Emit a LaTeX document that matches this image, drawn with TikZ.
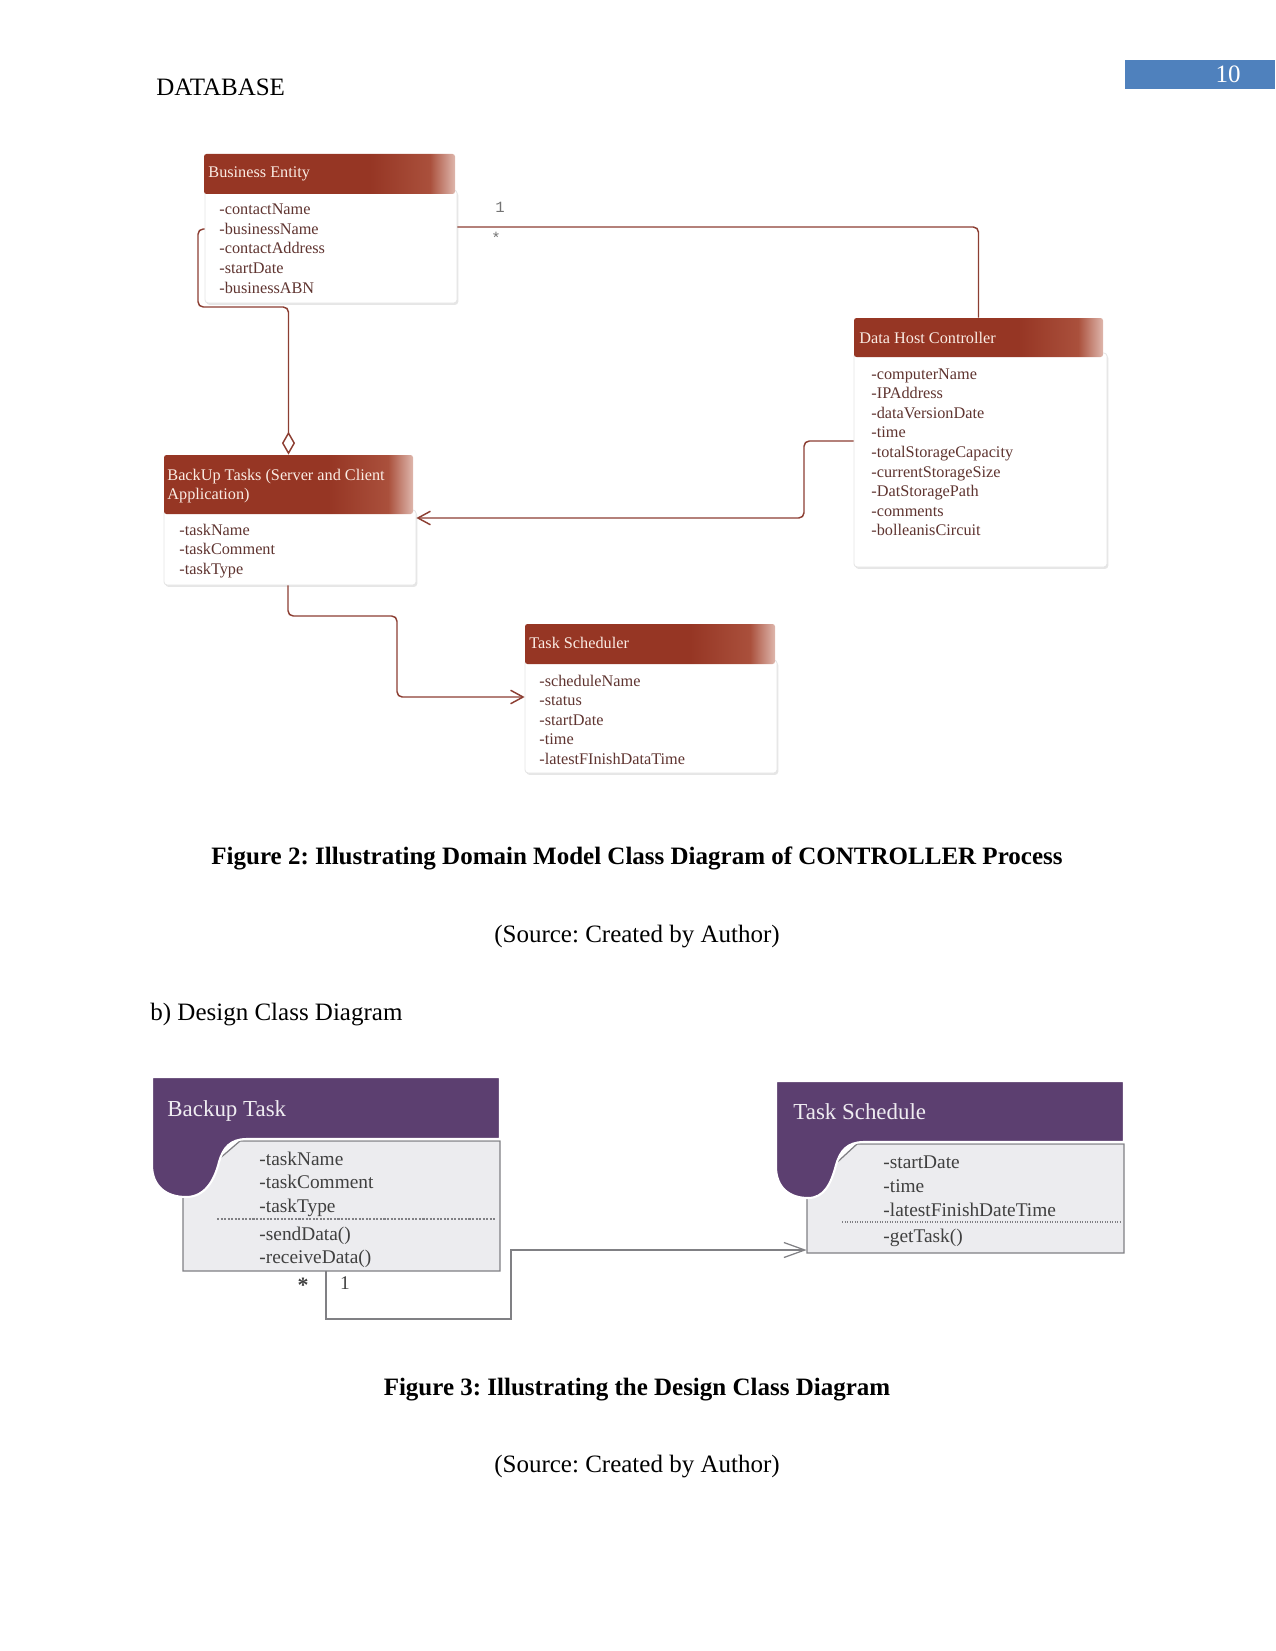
\documentclass[tikz,border=0pt]{standalone}
\usepackage{fontspec}
\setmainfont{Liberation Serif}
\newfontfamily\monofnt{Liberation Mono}
\usetikzlibrary{arrows.meta,shadows,fit,calc}
\frenchspacing
\definecolor{hdrA}{RGB}{150,54,36}
\definecolor{hdrB}{RGB}{170,80,60}
\definecolor{hdrC}{RGB}{222,182,172}
\definecolor{brline}{RGB}{140,62,50}
\definecolor{brtext}{RGB}{95,52,48}
\definecolor{hdrtext}{RGB}{250,236,228}
\definecolor{purp}{RGB}{92,63,112}
\definecolor{bodygray}{RGB}{236,236,239}
\definecolor{edgegray}{RGB}{128,128,132}
\definecolor{pgblue}{RGB}{79,129,189}
\pgfdeclarehorizontalshading{hdrshade}{100bp}{color(0bp)=(hdrA); color(25bp)=(hdrA); color(58bp)=(hdrA); color(70bp)=(hdrB); color(75bp)=(hdrC); color(100bp)=(hdrC)}
\tikzset{
  hdr/.style={inner sep=0pt, rounded corners=1.2pt, shading=hdrshade},
  clsbody/.style={inner sep=0pt, fill=white, draw=black!10, rounded corners=1.5pt,
     drop shadow={shadow xshift=0.6pt, shadow yshift=-0.9pt, opacity=0.2}},
  hdrlbl/.style={anchor=base west, inner sep=0pt, text=hdrtext, font=\fontsize{7.8}{9}\selectfont},
  attr/.style={anchor=base west, inner sep=0pt, text=brtext, font=\fontsize{7.8}{9}\selectfont},
  conn/.style={draw=brline, line width=0.7pt, rounded corners=2.5pt},
  openarr/.style={-{Straight Barb[length=6pt,width=6.5pt]}},
  mult/.style={anchor=base, inner sep=0pt, text=black!55, font=\monofnt\fontsize{7.5}{9}\selectfont},
  purpT/.style={anchor=base west, inner sep=0pt, text=white!90!purp, font=\fontsize{11}{13}\selectfont},
  dattr/.style={anchor=base west, inner sep=0pt, text=black!75, font=\fontsize{9.3}{11}\selectfont},
  gline/.style={draw=edgegray, line width=0.6pt},
  doc/.style={inner sep=0pt, font=\fontsize{12}{14}\selectfont},
  figcap/.style={inner sep=0pt, font=\bfseries\fontsize{12}{14}\selectfont}
}
\begin{document}
\begin{tikzpicture}[x=0.48pt, y=-0.48pt]
\useasboundingbox (0,0) rectangle (1275,1651);

% page header
\node[doc, anchor=base west] (dbtitle) at (156,96) {DATABASE};
\node[fill=pgblue, inner sep=0pt, fit={(1125,60)(1275,89)}] (pgbox) {};
\node[doc, text=white, anchor=base] (pgnum) at (1228,83) {10};

% ---------- Figure 2 ----------
% Business Entity
\node[clsbody, fit={(205,190)(457,303)}] (beB) {};
\node[hdr, fit={(204,154)(455,194)}] (beH) {};
\node[hdrlbl] (beT) at (208,178) {Business Entity};
\foreach \t [count=\i] in {-contactName,-businessName,-contactAddress,-startDate,-businessABN}
  \node[attr] (be\i) at (219,{215+19.5*(\i-1)}) {\t};

% Data Host Controller
\node[clsbody, fit={(854,353)(1107,567)}] (dhcB) {};
\node[hdr, fit={(854,318)(1103,357)}] (dhcH) {};
\node[hdrlbl] (dhcT) at (859,343) {Data Host Controller};
\foreach \t [count=\i] in {-computerName,-IPAddress,-dataVersionDate,-time,-totalStorageCapacity,-currentStorageSize,-DatStoragePath,-comments,-bolleanisCircuit}
  \node[attr] (dhc\i) at (871,{379+19.6*(\i-1)}) {\t};

% BackUp Tasks
\node[clsbody, fit={(164,510)(416,585)}] (buB) {};
\node[hdr, fit={(164,455)(413,514)}] (buH) {};
\node[hdrlbl] (buT1) at (167,480) {BackUp Tasks (Server and Client};
\node[hdrlbl] (buT2) at (167,499) {Application)};
\foreach \t [count=\i] in {-taskName,-taskComment,-taskType}
  \node[attr] (bu\i) at (179,{535+19.5*(\i-1)}) {\t};

% Task Scheduler
\node[clsbody, fit={(525,660)(777,773)}] (tsB) {};
\node[hdr, fit={(525,624)(775,664)}] (tsH) {};
\node[hdrlbl] (tsT) at (529,648) {Task Scheduler};
\foreach \t [count=\i] in {-scheduleName,-status,-startDate,-time,-latestFInishDataTime}
  \node[attr] (ts\i) at (539,{686+19.5*(\i-1)}) {\t};

% connectors
\draw[conn, -{Diamond[open,length=11pt,width=6.3pt]}]
  (beB.west |- 0,229) -- (198,229) -- (198,307) -- (buH.north |- 0,307) -- (buH.north);
\draw[conn] (beB.east |- 0,227) -| (dhcH.north);
\node[mult] (m1) at (500,213) {1};
\node[mult] (m2) at (496,243) {*};
\draw[conn, openarr] (dhcB.west |- 0,441) -- (804,441) |- (buB.east |- 0,518);
\draw[conn, openarr] (buB.south -| 288,0) -- (288,616) -| (397,697) -- (tsB.west |- 0,697);

% captions
\node[figcap, anchor=base] (cap2) at (637,864) {Figure 2: Illustrating Domain Model Class Diagram of CONTROLLER Process};
\node[doc, anchor=base] (src2) at (637,942) {(Source: Created by Author)};
\node[doc, anchor=base west] (sub) at (150,1020) {b) Design Class Diagram};

% ---------- Figure 3 ----------
% Backup Task
\node[inner sep=0pt, fit={(183,1141)(500,1271)}] (btB) {};
\filldraw[fill=bodygray, gline] (183,1190) -- (183,1271) -- (500,1271) -- (500,1141) -- (240,1141) -- cycle;
\filldraw[fill=purp, draw=white, line width=1pt] (152,1077) -- (500,1077) -- (500,1139) -- (247,1139)
  .. controls (230,1139) and (223,1148) .. (219,1162)
  .. controls (214,1182) and (204,1197) .. (186,1197)
  .. controls (166,1197) and (152,1186) .. (152,1165) -- cycle;
\node[purpT] (btT) at (167,1116) {Backup Task};
\foreach \t/\yy [count=\i] in {-taskName/1165,-taskComment/1188.5,-taskType/1212,-sendData()/1240,-receiveData()/1263.5}
  \node[dattr] (bt\i) at (259,\yy) {\t};
\draw[edgegray, line width=0.5pt, dash pattern=on 1pt off 0.7pt] (217,1219) -- (495,1219);

% Task Schedule
\node[inner sep=0pt, fit={(807,1144)(1124,1253)}] (tscB) {};
\filldraw[fill=bodygray, gline] (807,1190) -- (807,1253) -- (1124,1253) -- (1124,1144) -- (857,1144) -- cycle;
\filldraw[fill=purp, draw=white, line width=1pt] (776,1081) -- (1124,1081) -- (1124,1142) -- (864,1142)
  .. controls (847,1142) and (840,1151) .. (836,1165)
  .. controls (831,1184) and (824,1198) .. (808,1198)
  .. controls (789,1198) and (776,1187) .. (776,1167) -- cycle;
\node[purpT] (tscT) at (793,1119) {Task Schedule};
\foreach \t/\yy [count=\i] in {-startDate/1168,-time/1192,-latestFinishDateTime/1216,-getTask()/1242}
  \node[dattr] (tsc\i) at (883,\yy) {\t};
\draw[edgegray, line width=0.5pt, dash pattern=on 0.6pt off 0.6pt] (842,1222) -- (1120,1222);

% association
\draw[gline, -{Straight Barb[length=10pt,width=7.2pt]}]
  (btB.south -| 326,0) -- (326,1319) -| (511,1250) -- (tscB.west |- 0,1250);
\node[dattr, anchor=base, font=\bfseries\fontsize{10.5}{12}\selectfont] (bm1) at (303,1292) {*};
\node[dattr, anchor=base] (bm2) at (345,1289) {1};

\node[figcap, anchor=base] (cap3) at (637,1395) {Figure 3: Illustrating the Design Class Diagram};
\node[doc, anchor=base] (src3) at (637,1472) {(Source: Created by Author)};
\end{tikzpicture}
\end{document}
